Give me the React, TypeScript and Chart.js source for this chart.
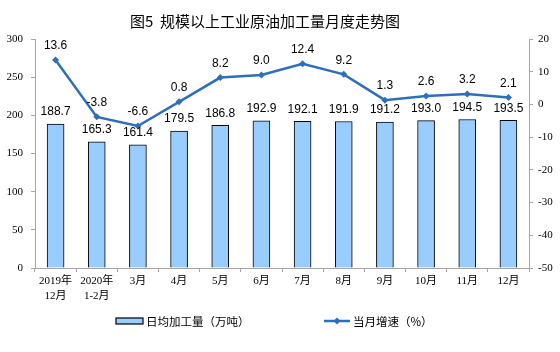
import React, { useEffect, useRef } from "react";
import { Chart, registerables } from "chart.js";

Chart.register(...registerables);

const categories: (string | string[])[] = [
  ["2019年", "12月"],
  ["2020年", "1-2月"],
  "3月", "4月", "5月", "6月", "7月", "8月", "9月", "10月", "11月", "12月",
];
const dailyOutput = [188.7, 165.3, 161.4, 179.5, 186.8, 192.9, 192.1, 191.9, 191.2, 193.0, 194.5, 193.5];
const monthlyGrowth = [13.6, -3.8, -6.6, 0.8, 8.2, 9.0, 12.4, 9.2, 1.3, 2.6, 3.2, 2.1];
const chartTitle = "图5  规模以上工业原油加工量月度走势图";
const barSeriesName = "日均加工量（万吨）";
const lineSeriesName = "当月增速（%）";

const BAR_FILL = "#99CCFF";
const LINE_COLOR = "#2E6FBA";
const AXIS_COLOR = "#A6A6A6";
const SANS = '"Liberation Sans", Arial, "Noto Sans CJK SC", sans-serif';
const CJK = '"Noto Sans CJK SC", "Liberation Sans", sans-serif';
const SERIF = '"Liberation Serif", "Noto Sans CJK SC", serif';

const decorPlugin = {
  id: "decor",
  afterDatasetsDraw(chart: any) {
    const ctx = chart.ctx as CanvasRenderingContext2D;
    ctx.save();
    ctx.font = "12px " + SANS;
    ctx.fillStyle = "#000";
    ctx.textAlign = "center";
    ctx.textBaseline = "middle";
    chart.getDatasetMeta(0).data.forEach((el: any, i: number) => {
      ctx.fillText(dailyOutput[i].toFixed(1), el.x, el.y - 12);
    });
    chart.getDatasetMeta(1).data.forEach((el: any, i: number) => {
      ctx.fillText(monthlyGrowth[i].toFixed(1), el.x, el.y - 14);
    });
    ctx.restore();
  },
  afterDraw(chart: any) {
    const ctx = chart.ctx as CanvasRenderingContext2D;
    ctx.save();
    // title
    ctx.font = "15px " + CJK;
    ctx.fillStyle = "#000";
    ctx.textAlign = "center";
    ctx.textBaseline = "middle";
    ctx.fillText(chartTitle, 265, 21);

    // legend
    const ly = 321;
    ctx.fillStyle = BAR_FILL;
    ctx.fillRect(116, ly - 3, 27, 6);
    ctx.strokeStyle = "#000";
    ctx.lineWidth = 1.2;
    ctx.strokeRect(116, ly - 3, 27, 6);
    ctx.font = "11.5px " + CJK;
    ctx.fillStyle = "#000";
    ctx.textAlign = "left";
    ctx.fillText(barSeriesName, 146, ly + 1);

    ctx.strokeStyle = LINE_COLOR;
    ctx.lineWidth = 2.5;
    ctx.beginPath();
    ctx.moveTo(324, ly);
    ctx.lineTo(350, ly);
    ctx.stroke();
    ctx.fillStyle = LINE_COLOR;
    ctx.beginPath();
    ctx.moveTo(337, ly - 3.5);
    ctx.lineTo(340.5, ly);
    ctx.lineTo(337, ly + 3.5);
    ctx.lineTo(333.5, ly);
    ctx.closePath();
    ctx.fill();
    ctx.fillStyle = "#000";
    ctx.fillText(lineSeriesName, 353, ly + 1);
    ctx.restore();
  },
};

export default function App() {
  const ref = useRef<HTMLCanvasElement | null>(null);
  useEffect(() => {
    if (!ref.current) return;
    const chart = new Chart(ref.current, {
      type: "bar",
      data: {
        labels: categories as any,
        datasets: [
          {
            type: "bar",
            label: barSeriesName,
            data: dailyOutput,
            backgroundColor: BAR_FILL,
            borderColor: "#000",
            borderWidth: 1,
            barThickness: 17,
            yAxisID: "y",
            order: 1,
          },
          {
            type: "line",
            label: lineSeriesName,
            data: monthlyGrowth,
            borderColor: LINE_COLOR,
            backgroundColor: LINE_COLOR,
            borderWidth: 2.5,
            pointStyle: "rectRot",
            pointRadius: 3.5,
            pointBorderWidth: 0,
            tension: 0,
            yAxisID: "y1",
            order: 0,
          },
        ] as any,
      },
      options: {
        animation: false,
        responsive: false,
        maintainAspectRatio: false,
        layout: { padding: { top: 39, left: 0, right: 0, bottom: 0 } },
        plugins: {
          legend: { display: false },
          title: { display: false },
          tooltip: { enabled: false },
        },
        scales: {
          x: {
            offset: true,
            grid: {
              offset: true,
              drawOnChartArea: false,
              drawTicks: true,
              tickLength: 4,
              color: AXIS_COLOR,
            },
            border: { display: true, color: AXIS_COLOR, width: 1 },
            ticks: {
              color: "#000",
              font: { family: SERIF, size: 11, lineHeight: 1.35 },
              padding: 2,
              maxRotation: 0,
              autoSkip: false,
            },
            afterFit: (s: any) => {
              s.height = 84;
            },
          },
          y: {
            position: "left",
            min: 0,
            max: 300,
            ticks: {
              stepSize: 50,
              color: "#000",
              font: { family: SERIF, size: 11 },
              padding: 8,
            },
            grid: { drawOnChartArea: false, tickLength: 4, color: AXIS_COLOR },
            border: { display: true, color: AXIS_COLOR, width: 1 },
            afterFit: (s: any) => {
              s.width = 35;
            },
          },
          y1: {
            position: "right",
            min: -50,
            max: 20,
            ticks: {
              stepSize: 10,
              color: "#000",
              font: { family: SERIF, size: 11 },
              padding: 5,
            },
            grid: { drawOnChartArea: false, tickLength: 4, color: AXIS_COLOR },
            border: { display: true, color: AXIS_COLOR, width: 1 },
            afterFit: (s: any) => {
              s.width = 31;
            },
          },
        },
      } as any,
      plugins: [decorPlugin],
    });
    return () => chart.destroy();
  }, []);

  return (
    <div style={{ position: "fixed", left: 0, top: 0, width: 560, height: 352, background: "#fff" }}>
      <canvas ref={ref} width={560} height={352} style={{ display: "block" }} />
    </div>
  );
}
